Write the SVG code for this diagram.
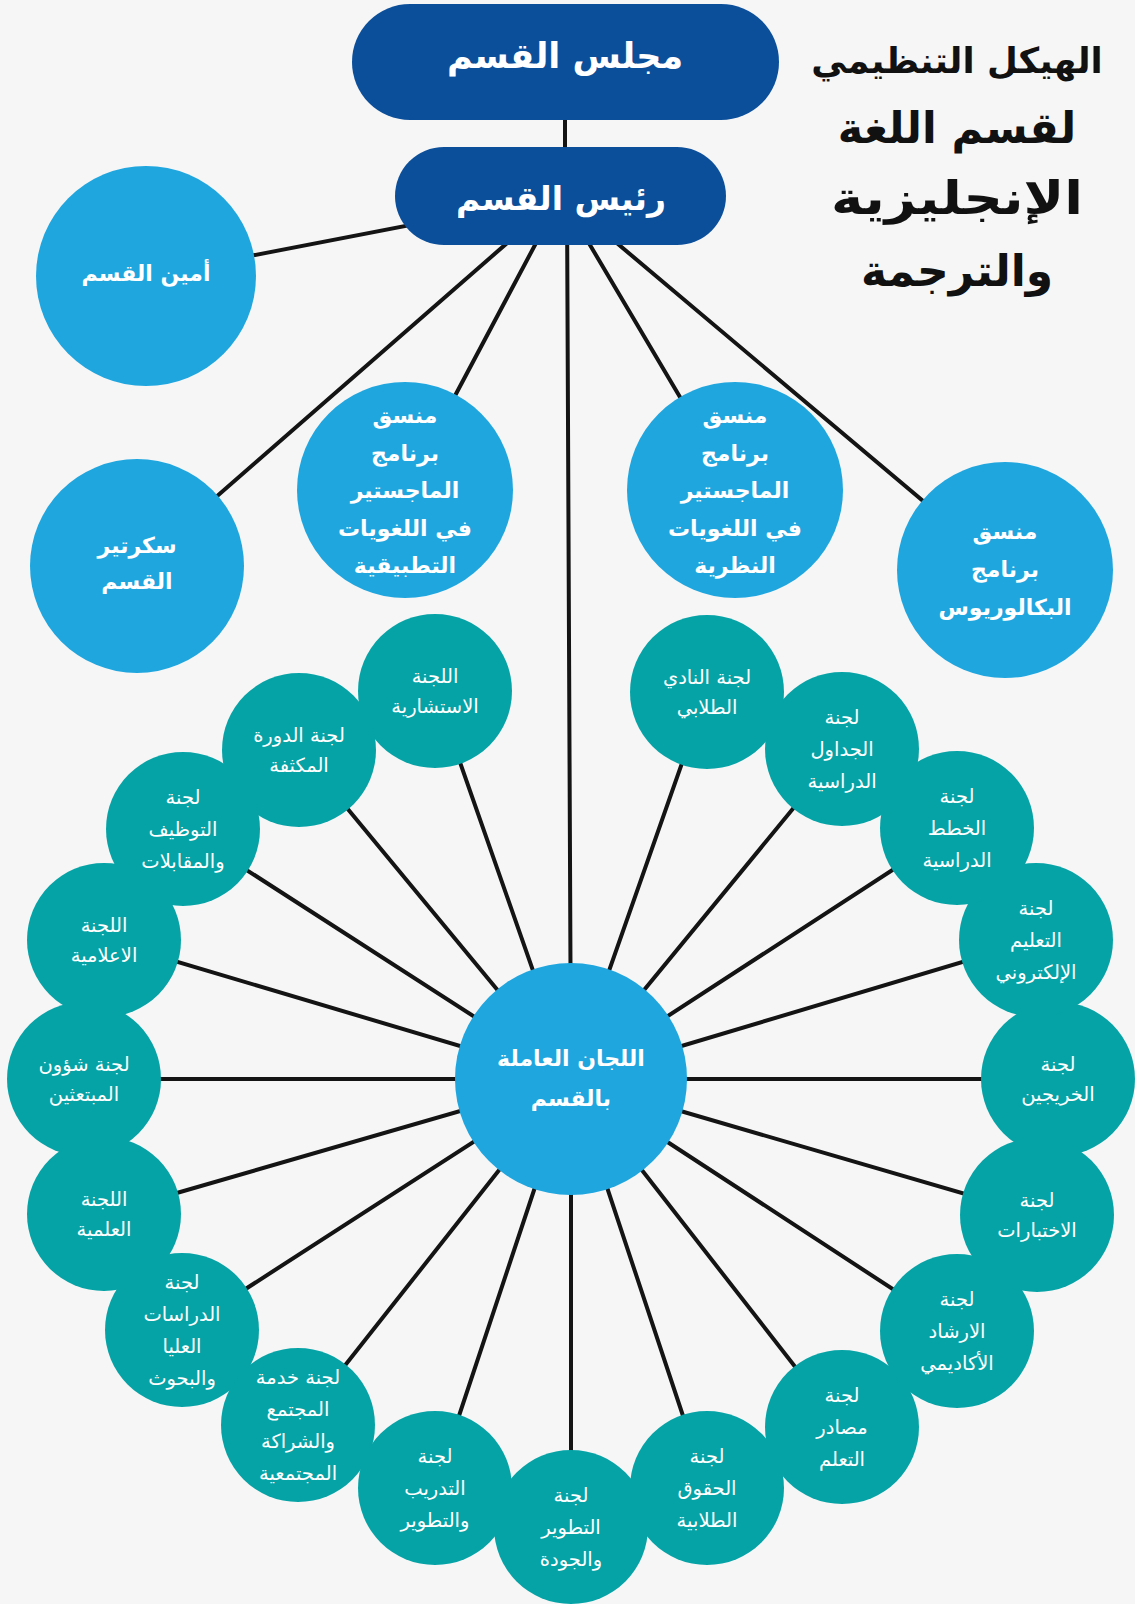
<svg xmlns="http://www.w3.org/2000/svg" width="1135" height="1604" viewBox="0 0 1135 1604">
<style>
text{font-family:"DejaVu Sans","Noto Sans",sans-serif;text-anchor:middle;fill:#fff;direction:rtl}
.pill{fill:#0b4f9a}
.lb{fill:#1fa6df}
.tl{fill:#06a3a6}
.lbt{font-size:22px;font-weight:bold}
.tt{font-size:19.5px}
.pt{font-weight:bold}
.title{fill:#111;font-weight:bold}
#connectors line{stroke:#141414;stroke-width:4;stroke-linecap:round}
</style>
<rect width="1135" height="1604" fill="#f6f6f7"/>
<g id="connectors">
<line x1="565" y1="100" x2="565" y2="170"/>
<line x1="567" y1="200" x2="571" y2="1079"/>
<line x1="561" y1="196" x2="146" y2="276"/>
<line x1="561" y1="196" x2="137" y2="566"/>
<line x1="561" y1="196" x2="405" y2="490"/>
<line x1="561" y1="196" x2="735" y2="490"/>
<line x1="561" y1="196" x2="1005" y2="570"/>
<line x1="571" y1="1079" x2="435" y2="691"/>
<line x1="571" y1="1079" x2="299" y2="750"/>
<line x1="571" y1="1079" x2="183" y2="829"/>
<line x1="571" y1="1079" x2="104" y2="940"/>
<line x1="571" y1="1079" x2="84" y2="1079"/>
<line x1="571" y1="1079" x2="104" y2="1214"/>
<line x1="571" y1="1079" x2="182" y2="1330"/>
<line x1="571" y1="1079" x2="298" y2="1425"/>
<line x1="571" y1="1079" x2="435" y2="1488"/>
<line x1="571" y1="1079" x2="571" y2="1527"/>
<line x1="571" y1="1079" x2="707" y2="1488"/>
<line x1="571" y1="1079" x2="842" y2="1427"/>
<line x1="571" y1="1079" x2="957" y2="1331"/>
<line x1="571" y1="1079" x2="1037" y2="1215"/>
<line x1="571" y1="1079" x2="1058" y2="1079"/>
<line x1="571" y1="1079" x2="1036" y2="940"/>
<line x1="571" y1="1079" x2="957" y2="828"/>
<line x1="571" y1="1079" x2="842" y2="749"/>
<line x1="571" y1="1079" x2="707" y2="692"/>
</g>
<g id="title">
<text class="title" x="957" y="73" font-size="35.5">الهيكل التنظيمي</text>
<text class="title" x="957" y="143" font-size="43">لقسم اللغة</text>
<text class="title" x="957" y="214" font-size="46" textLength="252" lengthAdjust="spacingAndGlyphs">الإنجليزية</text>
<text class="title" x="957" y="286" font-size="44">والترجمة</text>
</g>
<g id="council"><rect class="pill" x="352" y="4" width="427" height="116" rx="58"/><text class="pt" x="565" y="68" font-size="35">مجلس القسم</text></g>
<g id="head"><rect class="pill" x="395" y="147" width="331" height="98" rx="49"/><text class="pt" x="561" y="210" font-size="33">رئيس القسم</text></g>
<g id="secretary-general"><circle class="lb" cx="146" cy="276" r="110"/><text class="lbt" x="146" y="281" font-size="21">أمين القسم</text></g>
<g id="secretary"><circle class="lb" cx="137" cy="566" r="107"/><text class="lbt" x="137" y="553">سكرتير</text><text class="lbt" x="137" y="589">القسم</text></g>
<g id="applied"><circle class="lb" cx="405" cy="490" r="108"/><text class="lbt" x="405" y="423">منسق</text><text class="lbt" x="405" y="461">برنامج</text><text class="lbt" x="405" y="498">الماجستير</text><text class="lbt" x="405" y="536">في اللغويات</text><text class="lbt" x="405" y="573">التطبيقية</text></g>
<g id="theoretical"><circle class="lb" cx="735" cy="490" r="108"/><text class="lbt" x="735" y="423">منسق</text><text class="lbt" x="735" y="461">برنامج</text><text class="lbt" x="735" y="498">الماجستير</text><text class="lbt" x="735" y="536">في اللغويات</text><text class="lbt" x="735" y="573">النظرية</text></g>
<g id="bachelor"><circle class="lb" cx="1005" cy="570" r="108"/><text class="lbt" x="1005" y="539">منسق</text><text class="lbt" x="1005" y="577">برنامج</text><text class="lbt" x="1005" y="615">البكالوريوس</text></g>
<g id="committees-hub"><circle class="lb" cx="571" cy="1079" r="116"/><text class="lbt" x="571" y="1066" font-size="24">اللجان العاملة</text><text class="lbt" x="571" y="1106" font-size="24">بالقسم</text></g>
<g id="c-advisory"><circle class="tl" cx="435" cy="691" r="77"/><text class="tt" x="435" y="683">اللجنة</text><text class="tt" x="435" y="713">الاستشارية</text></g>
<g id="c-intensive"><circle class="tl" cx="299" cy="750" r="77"/><text class="tt" x="299" y="742">لجنة الدورة</text><text class="tt" x="299" y="772">المكثفة</text></g>
<g id="c-hiring"><circle class="tl" cx="183" cy="829" r="77"/><text class="tt" x="183" y="804">لجنة</text><text class="tt" x="183" y="836">التوظيف</text><text class="tt" x="183" y="868">والمقابلات</text></g>
<g id="c-media"><circle class="tl" cx="104" cy="940" r="77"/><text class="tt" x="104" y="932">اللجنة</text><text class="tt" x="104" y="962">الاعلامية</text></g>
<g id="c-scholars"><circle class="tl" cx="84" cy="1079" r="77"/><text class="tt" x="84" y="1071">لجنة شؤون</text><text class="tt" x="84" y="1101">المبتعثين</text></g>
<g id="c-scientific"><circle class="tl" cx="104" cy="1214" r="77"/><text class="tt" x="104" y="1206">اللجنة</text><text class="tt" x="104" y="1236">العلمية</text></g>
<g id="c-graduate"><circle class="tl" cx="182" cy="1330" r="77"/><text class="tt" x="182" y="1289">لجنة</text><text class="tt" x="182" y="1321">الدراسات</text><text class="tt" x="182" y="1353">العليا</text><text class="tt" x="182" y="1385">والبحوث</text></g>
<g id="c-community"><circle class="tl" cx="298" cy="1425" r="77"/><text class="tt" x="298" y="1384">لجنة خدمة</text><text class="tt" x="298" y="1416">المجتمع</text><text class="tt" x="298" y="1448">والشراكة</text><text class="tt" x="298" y="1480">المجتمعية</text></g>
<g id="c-training"><circle class="tl" cx="435" cy="1488" r="77"/><text class="tt" x="435" y="1463">لجنة</text><text class="tt" x="435" y="1495">التدريب</text><text class="tt" x="435" y="1527">والتطوير</text></g>
<g id="c-quality"><circle class="tl" cx="571" cy="1527" r="77"/><text class="tt" x="571" y="1502">لجنة</text><text class="tt" x="571" y="1534">التطوير</text><text class="tt" x="571" y="1566">والجودة</text></g>
<g id="c-rights"><circle class="tl" cx="707" cy="1488" r="77"/><text class="tt" x="707" y="1463">لجنة</text><text class="tt" x="707" y="1495">الحقوق</text><text class="tt" x="707" y="1527">الطلابية</text></g>
<g id="c-resources"><circle class="tl" cx="842" cy="1427" r="77"/><text class="tt" x="842" y="1402">لجنة</text><text class="tt" x="842" y="1434">مصادر</text><text class="tt" x="842" y="1466">التعلم</text></g>
<g id="c-advising"><circle class="tl" cx="957" cy="1331" r="77"/><text class="tt" x="957" y="1306">لجنة</text><text class="tt" x="957" y="1338">الارشاد</text><text class="tt" x="957" y="1370">الأكاديمي</text></g>
<g id="c-exams"><circle class="tl" cx="1037" cy="1215" r="77"/><text class="tt" x="1037" y="1207">لجنة</text><text class="tt" x="1037" y="1237">الاختبارات</text></g>
<g id="c-alumni"><circle class="tl" cx="1058" cy="1079" r="77"/><text class="tt" x="1058" y="1071">لجنة</text><text class="tt" x="1058" y="1101">الخريجين</text></g>
<g id="c-elearning"><circle class="tl" cx="1036" cy="940" r="77"/><text class="tt" x="1036" y="915">لجنة</text><text class="tt" x="1036" y="947">التعليم</text><text class="tt" x="1036" y="979">الإلكتروني</text></g>
<g id="c-plans"><circle class="tl" cx="957" cy="828" r="77"/><text class="tt" x="957" y="803">لجنة</text><text class="tt" x="957" y="835">الخطط</text><text class="tt" x="957" y="867">الدراسية</text></g>
<g id="c-schedules"><circle class="tl" cx="842" cy="749" r="77"/><text class="tt" x="842" y="724">لجنة</text><text class="tt" x="842" y="756">الجداول</text><text class="tt" x="842" y="788">الدراسية</text></g>
<g id="c-club"><circle class="tl" cx="707" cy="692" r="77"/><text class="tt" x="707" y="684">لجنة النادي</text><text class="tt" x="707" y="714">الطلابي</text></g>
</svg>
